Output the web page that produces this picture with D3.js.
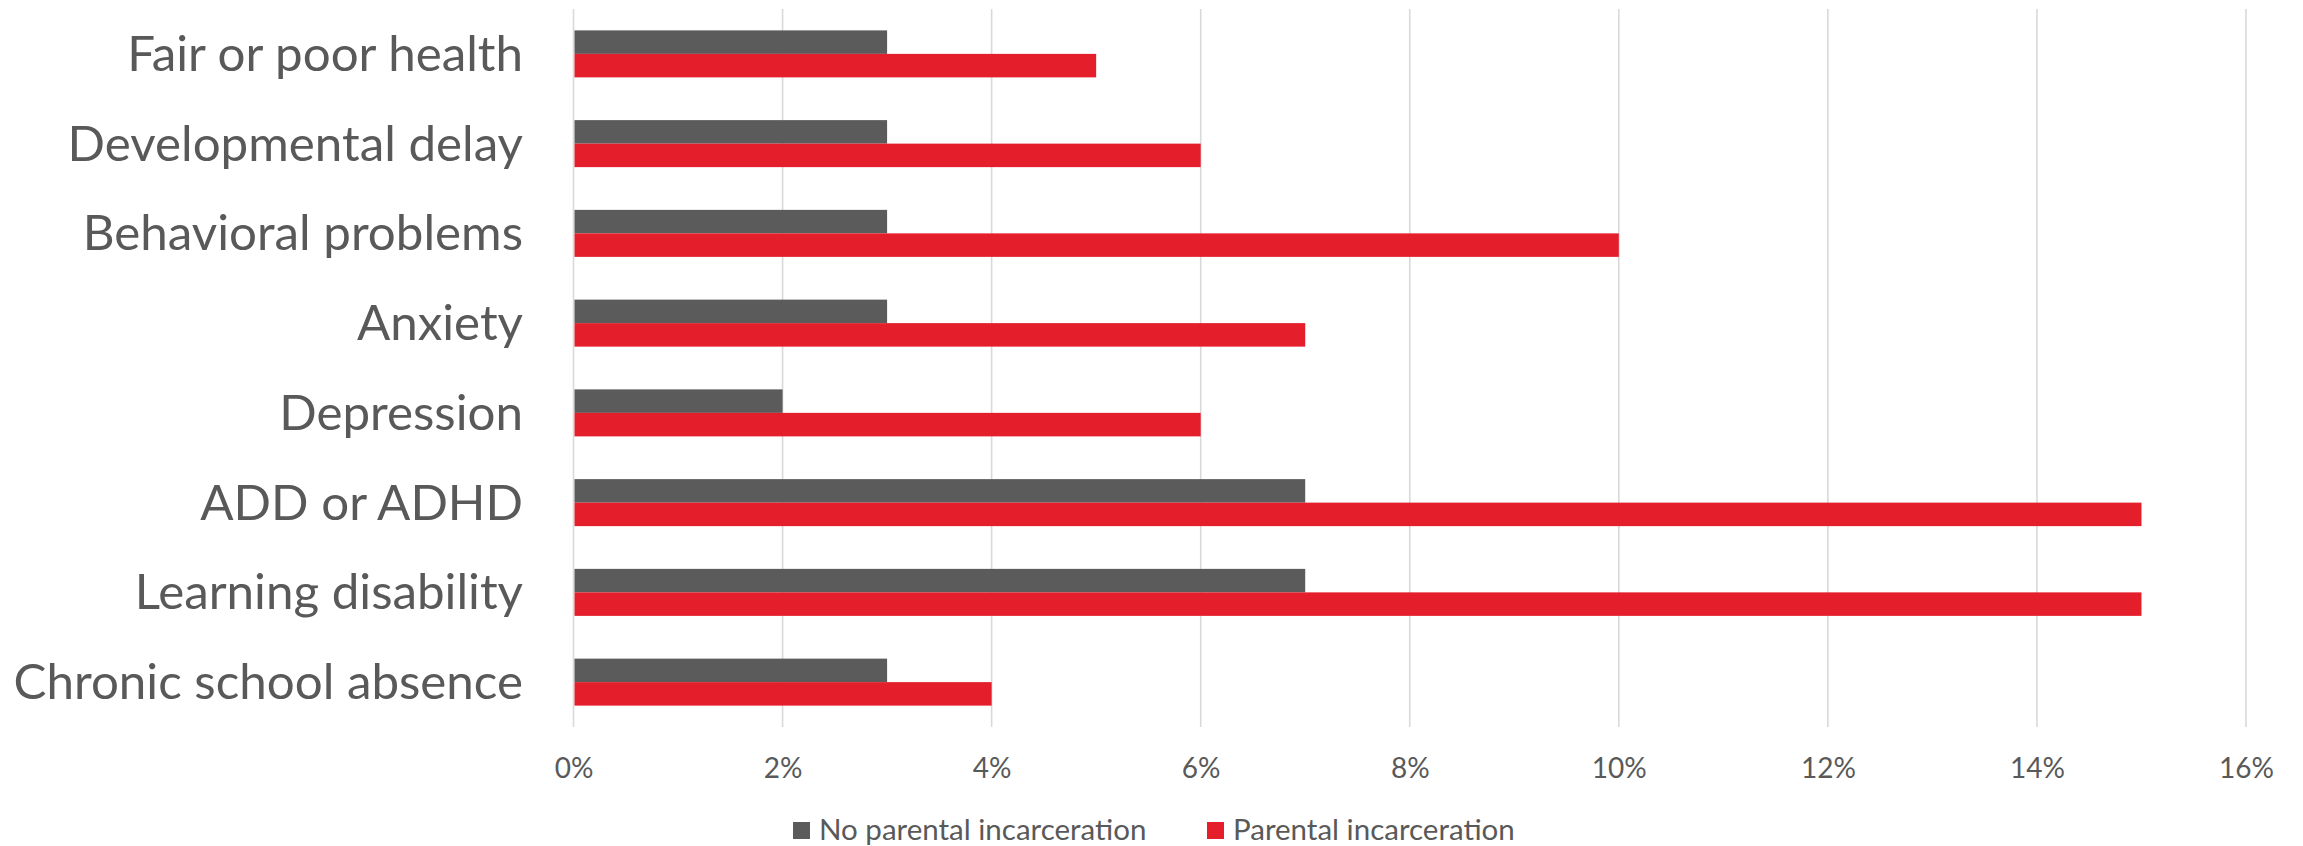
<!DOCTYPE html>
<html>
<head>
<meta charset="utf-8">
<script src="https://cdn.jsdelivr.net/npm/d3@7"></script>
<style>
  html, body { margin: 0; padding: 0; background: #fff; }
  svg { display: block; }
  text { font-family: Lato, "Open Sans", sans-serif; fill: #595959; }
</style>
</head>
<body>
<svg id="chart" width="2303" height="846"></svg>
<script>
// Share of children with each condition, by parental incarceration status (%)
const categories = [
  "Fair or poor health",
  "Developmental delay",
  "Behavioral problems",
  "Anxiety",
  "Depression",
  "ADD or ADHD",
  "Learning disability",
  "Chronic school absence"
];
const seriesNames = ["No parental incarceration", "Parental incarceration"];
const noIncarceration = [3, 3, 3, 3, 2, 7, 7, 3];
const incarceration   = [5, 6, 10, 7, 6, 15, 15, 4];
const xTicks = [0, 2, 4, 6, 8, 10, 12, 14, 16];
const colors = ["#5B5B5B", "#E41E2B"];

const rows = categories.map((c, i) => ({
  category: c,
  values: [noIncarceration[i], incarceration[i]]
}));

const svg = d3.select("#chart");
const plot = { left: 573.5, right: 2246, top: 9, bottom: 727 };

const x = d3.scaleLinear().domain([0, 16]).range([plot.left, plot.right]);
const y = d3.scaleBand().domain(categories).range([plot.top, plot.bottom]);
const pairHeight = 47;
const inner = d3.scaleBand()
  .domain(d3.range(seriesNames.length))
  .range([(y.bandwidth() - pairHeight) / 2, (y.bandwidth() + pairHeight) / 2]);

// vertical gridlines
svg.append("g")
  .selectAll("line")
  .data(xTicks)
  .join("line")
  .attr("x1", d => x(d)).attr("x2", d => x(d))
  .attr("y1", plot.top).attr("y2", plot.bottom)
  .attr("stroke", "#D9D9D9")
  .attr("stroke-width", 1.6);

// bars
const groups = svg.append("g")
  .selectAll("g")
  .data(rows)
  .join("g")
  .attr("transform", d => `translate(0,${y(d.category)})`);

groups.selectAll("rect")
  .data(d => d.values.map((v, k) => ({ v, k })))
  .join("rect")
  .attr("x", x(0) + 1)
  .attr("y", d => inner(d.k))
  .attr("width", d => x(d.v) - x(0) - 1)
  .attr("height", inner.bandwidth())
  .attr("fill", d => colors[d.k]);

// category labels
svg.append("g")
  .selectAll("text")
  .data(categories)
  .join("text")
  .attr("x", 523)
  .attr("y", d => y(d) + y.bandwidth() / 2 + 17)
  .attr("text-anchor", "end")
  .attr("font-size", 49.3)
  .text(d => d);

// x-axis tick labels
const xAxis = d3.axisBottom(x)
  .tickValues(xTicks)
  .tickSize(0)
  .tickPadding(0)
  .tickFormat(d => d + "%");
const axisG = svg.append("g")
  .attr("transform", `translate(0,${plot.bottom})`)
  .call(xAxis);
axisG.select(".domain").remove();
axisG.selectAll("text")
  .attr("dy", null)
  .attr("y", 51)
  .attr("font-size", 28)
  .attr("font-family", "Lato, 'Open Sans', sans-serif")
  .attr("fill", "#595959");

// legend
const legendItems = [
  { name: seriesNames[0], color: colors[0], x: 793 },
  { name: seriesNames[1], color: colors[1], x: 1207 }
];
const legend = svg.append("g")
  .selectAll("g")
  .data(legendItems)
  .join("g")
  .attr("transform", d => `translate(${d.x},822)`);
legend.append("rect")
  .attr("width", 17).attr("height", 17)
  .attr("fill", d => d.color);
legend.append("text")
  .attr("x", 26)
  .attr("y", 18)
  .attr("font-size", 29.5)
  .text(d => d.name);
</script>
</body>
</html>
